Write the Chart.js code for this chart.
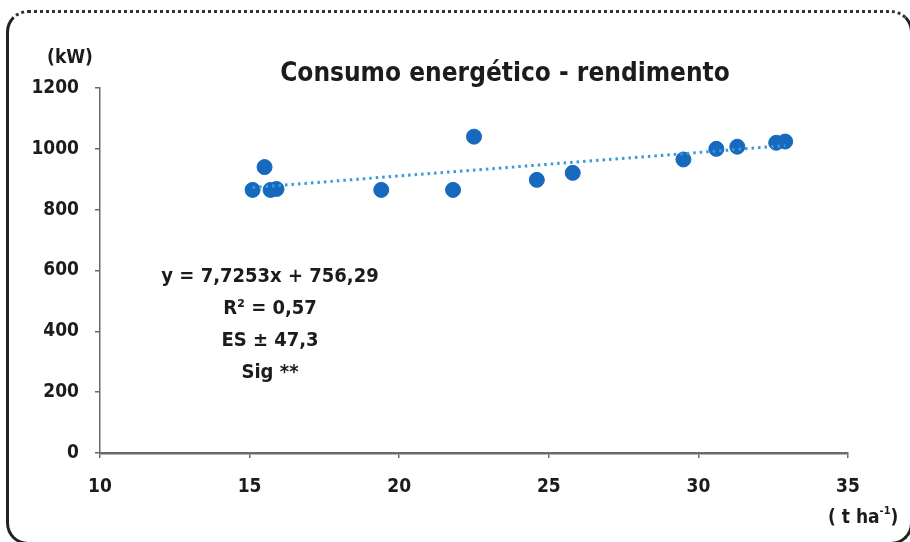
<!DOCTYPE html>
<html>
<head>
<meta charset="utf-8">
<script src="https://cdn.jsdelivr.net/npm/chart.js@4.4.0/dist/chart.umd.min.js"></script>
<style>
  html, body { margin: 0; padding: 0; background: #fff; }
  #wrap { position: relative; width: 910px; height: 542px; overflow: hidden; }
  #frame {
    position: absolute; left: 6px; top: 10px; width: 907px; height: 535px;
    border: 3px solid #222; border-top-style: dotted; border-top-color: #333;
    border-radius: 22px; box-sizing: border-box; pointer-events: none;
  }
</style>
</head>
<body>
<div id="wrap">
  <canvas id="chart" width="910" height="542"></canvas>
  <div id="frame"></div>
</div>
<script>
// Data
const yieldValues = [15.1, 15.5, 15.7, 15.9, 19.4, 21.8, 22.5, 24.6, 25.8, 29.5, 30.6, 31.3, 32.6, 32.9];
const powerValues = [865, 940, 865, 868, 865, 865, 1040, 898, 921, 965, 1000, 1007, 1020, 1024];

// Trend line
const slope = 7.7253;
const intercept = 756.29;
const trendRange = [15.1, 32.9];

const xTicks = [10, 15, 20, 25, 30, 35];
const yTicks = [0, 200, 400, 600, 800, 1000, 1200];

const chartTitle = 'Consumo energético - rendimento';
const statLines = ['y = 7,7253x + 756,29', 'R² = 0,57', 'ES ± 47,3', 'Sig **'];

const FONT = '"Liberation Sans Narrow", "DejaVu Sans Condensed", "Arial Narrow", "Liberation Sans", Arial, sans-serif';
const INK = '#1c1c1c';
const AXIS = '#6a6a6a';

const scatterPoints = yieldValues.map((x, i) => ({ x: x, y: powerValues[i] }));
const trendPoints = trendRange.map(x => ({ x: x, y: slope * x + intercept }));

// draws title, unit labels and regression text
const labelsPlugin = {
    id: 'labels',
    afterDraw(chart) {
        const ctx = chart.ctx;
        ctx.save();
        ctx.fillStyle = INK;
        ctx.textBaseline = 'middle';

        ctx.textAlign = 'center';
        ctx.font = 'bold 26px ' + FONT;
        ctx.fillText(chartTitle, 505, 74);

        ctx.font = 'bold 19px ' + FONT;
        ctx.fillText('(kW)', 70, 58);

        ctx.font = 'bold 20px ' + FONT;
        statLines.forEach((line, i) => ctx.fillText(line, 270, 277 + i * 32));

        // ( t ha-1 )
        ctx.font = 'bold 19px ' + FONT;
        ctx.textAlign = 'left';
        const base = 518;
        let x = 828;
        ctx.fillText('( t ha', x, base);
        x += ctx.measureText('( t ha').width;
        ctx.font = 'bold 11px ' + FONT;
        ctx.fillText('-1', x, base - 7);
        x += ctx.measureText('-1').width;
        ctx.font = 'bold 19px ' + FONT;
        ctx.fillText(')', x, base);
        ctx.restore();
    }
};

new Chart(document.getElementById('chart').getContext('2d'), {
    type: 'scatter',
    data: {
        datasets: [
            {
                type: 'line',
                data: trendPoints,
                borderColor: '#3d9ad8',
                borderWidth: 3,
                borderDash: [2.5, 4],
                pointRadius: 0,
                fill: false
            },
            {
                data: scatterPoints,
                backgroundColor: '#1769bd',
                borderColor: '#1769bd',
                pointRadius: 7.5,
                pointHoverRadius: 7.5
            }
        ]
    },
    options: {
        responsive: false,
        animation: false,
        layout: { padding: { left: 0, right: 62, top: 88, bottom: 0 } },
        plugins: { legend: { display: false }, tooltip: { enabled: false } },
        scales: {
            x: {
                type: 'linear',
                min: 10,
                max: 35,
                afterBuildTicks: s => { s.ticks = xTicks.map(v => ({ value: v })); },
                afterFit: s => { s.height = 89; },
                grid: { drawOnChartArea: false, color: AXIS, lineWidth: 1.5, tickLength: 5 },
                border: { color: AXIS, width: 2.5 },
                ticks: { color: INK, padding: 18, callback: v => String(v), font: { family: FONT, size: 19, weight: 'bold' } }
            },
            y: {
                min: 0,
                max: 1200,
                afterBuildTicks: s => { s.ticks = yTicks.map(v => ({ value: v })); },
                afterFit: s => { s.width = 100; },
                grid: { drawOnChartArea: false, color: AXIS, lineWidth: 1.5, tickLength: 5 },
                border: { color: AXIS, width: 1.5 },
                ticks: { color: INK, padding: 16, callback: v => String(v), font: { family: FONT, size: 19, weight: 'bold' } }
            }
        }
    },
    plugins: [labelsPlugin]
});
</script>
</body>
</html>
